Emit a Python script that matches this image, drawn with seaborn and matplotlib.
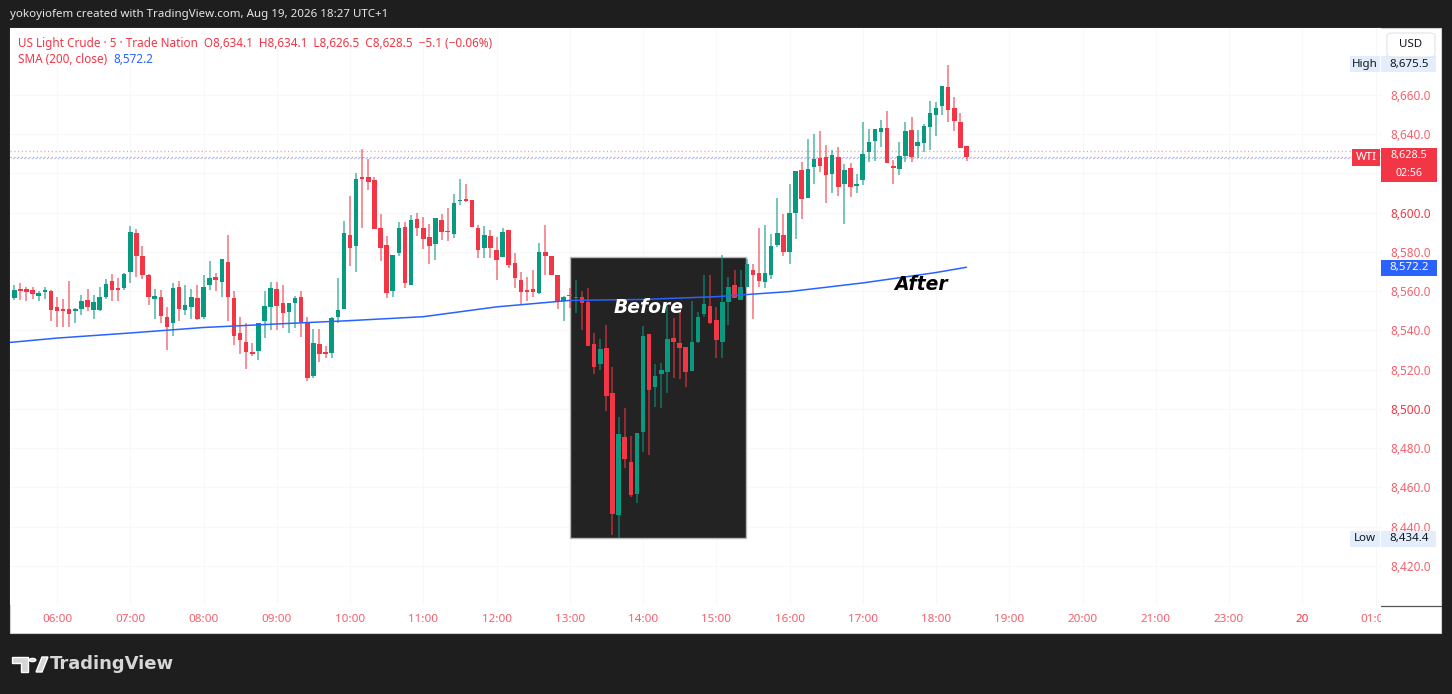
import numpy as np
import pandas as pd
import matplotlib
matplotlib.use('Agg')
import matplotlib.pyplot as plt
import matplotlib.transforms as mtransforms
from matplotlib.patches import Rectangle, FancyBboxPatch, Polygon, Circle
import seaborn as sns

# 5 min bars, US Light Crude, 05:25 -> 18:25
opens = [8556.6, 8561.0, 8561.0, 8560.6, 8557.5, 8559.8, 8560.0, 8552.0, 8551.0, 8551.0,
         8550.0, 8551.0, 8555.5, 8550.5, 8550.5, 8557.0, 8565.0, 8561.6, 8561.5, 8569.6,
         8589.5, 8578.0, 8568.0, 8556.2, 8557.2, 8547.0, 8543.7, 8562.3, 8550.5, 8552.0,
         8556.5, 8546.6, 8563.0, 8567.0, 8564.8, 8575.0, 8556.4, 8538.6, 8534.0, 8529.0,
         8529.5, 8544.8, 8551.8, 8561.0, 8554.0, 8549.6, 8554.2, 8557.2, 8543.6, 8517.0,
         8533.0, 8529.0, 8528.7, 8547.0, 8551.0, 8588.7, 8583.2, 8618.0, 8618.4, 8616.7,
         8592.0, 8583.6, 8560.3, 8579.3, 8592.9, 8563.2, 8596.8, 8592.0, 8587.5, 8584.0,
         8596.3, 8590.8, 8589.0, 8605.9, 8607.0, 8606.5, 8592.4, 8581.9, 8588.0, 8581.0,
         8577.6, 8591.2, 8574.2, 8565.7, 8560.6, 8561.0, 8558.9, 8579.8, 8578.0, 8568.0,
         8555.0, 8558.3, 8556.4, 8557.2, 8554.7, 8533.0, 8522.8, 8531.2, 8508.0, 8446.0,
         8485.9, 8473.1, 8456.5, 8488.4, 8538.0, 8511.0, 8517.8, 8519.0, 8536.3, 8533.5,
         8531.7, 8519.3, 8534.3, 8548.2, 8552.7, 8545.3, 8534.0, 8554.7, 8563.2, 8555.5,
         8562.3, 8571.0, 8569.4, 8564.9, 8568.3, 8583.6, 8588.7, 8580.0, 8600.0, 8622.0,
         8607.4, 8623.2, 8627.7, 8628.3, 8619.7, 8628.6, 8614.6, 8622.6, 8613.8, 8616.7,
         8631.1, 8636.7, 8641.3, 8643.0, 8624.0, 8622.1, 8629.0, 8642.2, 8634.0, 8635.4,
         8643.8, 8649.8, 8654.4, 8663.9, 8653.2, 8646.4, 8634.1]
highs = [8563.2, 8564.0, 8562.0, 8562.0, 8560.0, 8562.0, 8560.4, 8557.0, 8556.0, 8565.0,
         8551.2, 8558.0, 8561.0, 8558.0, 8562.0, 8566.0, 8569.0, 8566.7, 8569.2, 8593.0,
         8591.5, 8583.0, 8569.0, 8561.0, 8560.5, 8552.0, 8564.0, 8565.0, 8563.0, 8561.0,
         8563.0, 8568.0, 8575.4, 8569.5, 8576.3, 8588.7, 8560.0, 8547.0, 8544.0, 8533.6,
         8544.0, 8560.0, 8564.7, 8564.7, 8563.0, 8554.2, 8557.5, 8560.0, 8546.7, 8540.7,
         8540.7, 8532.0, 8546.6, 8566.6, 8596.0, 8608.7, 8620.0, 8632.5, 8627.6, 8618.4,
         8599.5, 8588.0, 8578.6, 8595.0, 8595.5, 8598.8, 8600.0, 8598.0, 8594.4, 8597.3,
         8599.2, 8602.5, 8609.5, 8617.2, 8614.5, 8606.6, 8593.6, 8593.0, 8591.0, 8587.5,
         8592.0, 8591.3, 8579.3, 8570.0, 8567.0, 8570.8, 8584.5, 8593.6, 8578.1, 8568.1,
         8557.3, 8561.6, 8565.8, 8560.0, 8561.4, 8538.6, 8535.6, 8542.7, 8521.6, 8496.0,
         8500.5, 8486.0, 8487.7, 8542.5, 8538.1, 8523.0, 8523.5, 8552.5, 8546.3, 8550.0,
         8531.8, 8555.0, 8549.4, 8568.0, 8568.0, 8551.8, 8578.4, 8567.0, 8570.8, 8570.8,
         8576.6, 8573.8, 8592.0, 8593.6, 8589.0, 8607.7, 8599.5, 8614.7, 8621.4, 8626.0,
         8637.4, 8640.0, 8641.4, 8634.7, 8632.0, 8633.6, 8625.0, 8625.2, 8619.5, 8646.4,
         8642.8, 8642.6, 8647.4, 8651.7, 8627.0, 8636.0, 8646.3, 8648.6, 8642.2, 8645.3,
         8657.0, 8656.4, 8664.8, 8675.5, 8659.0, 8651.0, 8634.1]
lows = [8555.5, 8555.5, 8555.0, 8556.0, 8555.0, 8556.0, 8545.0, 8542.0, 8542.0, 8542.0,
        8544.0, 8548.0, 8550.0, 8546.0, 8550.0, 8556.0, 8555.0, 8555.0, 8560.6, 8564.0,
        8567.0, 8566.0, 8553.0, 8546.0, 8544.0, 8530.0, 8537.0, 8545.0, 8548.0, 8546.0,
        8545.5, 8546.0, 8560.5, 8560.0, 8557.0, 8544.6, 8532.8, 8528.0, 8520.5, 8527.0,
        8525.0, 8536.0, 8540.0, 8540.0, 8541.0, 8538.5, 8541.0, 8536.5, 8514.0, 8516.0,
        8524.0, 8526.0, 8526.0, 8544.0, 8551.0, 8572.9, 8570.0, 8592.0, 8611.5, 8591.7,
        8575.6, 8556.6, 8557.2, 8578.0, 8561.5, 8563.2, 8588.0, 8581.7, 8573.6, 8576.0,
        8586.0, 8585.7, 8587.0, 8603.7, 8605.3, 8592.5, 8577.0, 8577.0, 8577.0, 8565.6,
        8577.5, 8571.8, 8561.4, 8553.0, 8555.0, 8557.0, 8558.8, 8568.0, 8568.2, 8551.0,
        8545.0, 8551.6, 8549.0, 8540.0, 8532.1, 8518.0, 8519.6, 8498.7, 8436.0, 8434.4,
        8470.0, 8455.0, 8452.0, 8478.0, 8476.6, 8501.0, 8500.5, 8508.0, 8515.7, 8515.0,
        8511.0, 8519.2, 8533.5, 8547.0, 8543.5, 8526.0, 8526.0, 8543.0, 8556.6, 8555.4,
        8562.2, 8545.9, 8562.0, 8561.5, 8566.0, 8582.3, 8578.0, 8574.0, 8586.4, 8597.0,
        8607.3, 8614.7, 8620.5, 8605.0, 8610.0, 8608.3, 8594.4, 8608.0, 8610.0, 8614.1,
        8626.0, 8626.5, 8633.6, 8625.1, 8614.6, 8619.0, 8625.6, 8626.0, 8628.0, 8631.0,
        8632.0, 8639.0, 8650.0, 8646.4, 8641.6, 8633.1, 8626.5]
closes = [8560.6, 8560.0, 8559.5, 8558.6, 8559.0, 8560.2, 8550.5, 8549.7, 8550.0, 8548.5,
          8551.0, 8555.0, 8552.0, 8554.5, 8557.0, 8563.7, 8560.6, 8560.6, 8569.0, 8590.3,
          8578.0, 8568.3, 8557.2, 8557.6, 8547.4, 8542.0, 8561.5, 8551.0, 8553.0, 8557.0,
          8546.0, 8562.3, 8566.6, 8565.7, 8576.3, 8557.2, 8537.4, 8535.2, 8529.0, 8528.0,
          8544.0, 8552.6, 8561.8, 8552.5, 8549.0, 8554.0, 8556.7, 8544.5, 8515.6, 8533.5,
          8528.0, 8528.0, 8546.5, 8550.4, 8589.5, 8582.0, 8617.2, 8617.2, 8615.8, 8591.7,
          8582.0, 8559.2, 8578.5, 8592.4, 8564.0, 8596.3, 8592.4, 8586.5, 8583.2, 8597.2,
          8590.0, 8590.0, 8604.8, 8606.4, 8606.0, 8592.6, 8581.0, 8588.7, 8581.9, 8576.0,
          8590.3, 8573.4, 8566.6, 8559.8, 8559.8, 8559.8, 8580.0, 8578.0, 8568.3, 8554.7,
          8557.2, 8557.4, 8557.2, 8553.8, 8532.2, 8521.6, 8530.6, 8506.8, 8446.3, 8487.0,
          8474.5, 8456.0, 8487.6, 8537.4, 8509.7, 8517.0, 8519.8, 8535.6, 8534.0, 8531.0,
          8519.0, 8534.0, 8547.0, 8553.5, 8544.0, 8535.0, 8554.4, 8562.3, 8556.7, 8562.3,
          8573.7, 8568.0, 8565.2, 8569.2, 8583.0, 8589.8, 8580.2, 8600.0, 8621.3, 8607.0,
          8622.1, 8627.4, 8623.8, 8619.0, 8629.4, 8613.3, 8621.8, 8613.0, 8614.6, 8629.8,
          8636.2, 8642.5, 8643.0, 8625.2, 8623.0, 8629.0, 8641.8, 8628.6, 8636.2, 8644.4,
          8651.0, 8653.2, 8664.7, 8652.4, 8646.7, 8633.2, 8628.5]
first_bar = pd.Timestamp('2026-08-19 05:25')

# SMA(200, close)
sma_times = ['05:20', '06:00', '07:00', '08:00', '09:00', '10:00', '11:00', '12:00',
             '13:00', '14:00', '15:00', '16:00', '17:00', '18:00', '18:25']
sma_vals = [8533.8, 8536.1, 8538.7, 8541.5, 8543.3, 8545.0, 8547.0, 8552.0,
            8555.3, 8555.8, 8557.2, 8559.8, 8564.2, 8569.5, 8572.2]

time_labels = ['06:00', '07:00', '08:00', '09:00', '10:00', '11:00', '12:00', '13:00',
               '14:00', '15:00', '16:00', '17:00', '18:00', '19:00', '20:00', '21:00',
               '23:00', '20', '01:00']
price_ticks = [8420, 8440, 8460, 8480, 8500, 8520, 8540, 8560, 8580, 8600, 8620, 8640, 8660]
hidden_ticks = [8620]  # sits under the last-price badge

GREEN = '#089981'
RED = '#f23645'
LIGHT_RED = '#f5606c'
BLUE = '#2962ff'
W, H = 1452, 694

df = pd.DataFrame({'open': opens, 'high': highs, 'low': lows, 'close': closes})
df['bar'] = np.arange(len(df))
df['up'] = df['close'] >= df['open']
df['color'] = np.where(df['up'], GREEN, RED)
df['lo'] = df[['open', 'close']].min(axis=1)
df['h'] = (df['close'] - df['open']).abs().clip(lower=0.8)

sma_pos = [(pd.Timestamp('2026-08-19 ' + t) - first_bar) / pd.Timedelta('5min') for t in sma_times]
bar_0600 = (pd.Timestamp('2026-08-19 06:00') - first_bar) / pd.Timedelta('5min')
tick_pos = [bar_0600 + 12 * j for j in range(len(time_labels))]

sns.set_style('white')
plt.rcParams['font.family'] = ['Noto Sans', 'DejaVu Sans']

fig = plt.figure(figsize=(W / 100, H / 100), dpi=100, facecolor='#1e1e1e')


def fx(px):
    return px / W


def fy(py):
    return 1 - py / H


# white chart canvas (behind the axes)
fig.patches.append(Rectangle((fx(10), fy(633)), fx(1431), 605 / H, transform=fig.transFigure,
                             facecolor='white', edgecolor='#cfcfcf', lw=0.8, zorder=-5))

ax = fig.add_axes([fx(10), fy(605), fx(1371), 577 / H])
ax.set_facecolor('white')
ax.set_xlim(-0.70, 223.9)
ax.set_ylim(8400.1, 8694.1)
for s in ax.spines.values():
    s.set_visible(False)

ax.set_xticks(tick_pos)
ax.set_xticklabels([])
ax.set_yticks(price_ticks)
ax.yaxis.tick_right()
ax.set_yticklabels(['' if v in hidden_ticks else f'{v:,.1f}' for v in price_ticks])
ax.tick_params(axis='both', length=0)
ax.tick_params(axis='y', pad=7, labelsize=8.5, labelcolor=LIGHT_RED)
for lab, v in zip(ax.get_yticklabels(), price_ticks):
    if v % 100 == 0:
        lab.set_fontweight('bold')
        lab.set_color(RED)
ax.grid(True, color='#f8f8f8', lw=0.8)
ax.set_axisbelow(True)

# highlight box
ax.add_patch(Rectangle((91.0, 8434.2), 28.8, 143.2, facecolor='#232323',
                       edgecolor='#b8b8b8', lw=1, zorder=1))

# candles
ax.vlines(df['bar'], df['low'], df['high'], colors=df['color'], lw=1.1, alpha=0.7, zorder=2)
ax.bar(df['bar'], df['h'], bottom=df['lo'], width=0.74, color=df['color'], lw=0, zorder=3)

# SMA
sns.lineplot(x=sma_pos, y=sma_vals, ax=ax, color=BLUE, lw=1.1, zorder=4)

# price lines
ax.axhline(8631.3, color='#f7a1a8', lw=0.9, ls=(0, (1, 2)), zorder=1)
ax.axhline(8628.5, color='#f58a94', lw=0.9, ls=(0, (1, 2)), zorder=1)
ax.axhline(8627.9, color='#9fb6f7', lw=0.9, ls=(1, (1, 2)), zorder=1)

ax.text(104.0, 8551.5, 'Before', color='white', fontsize=13.5, fontweight='bold',
        fontstyle='italic', family=['DejaVu Sans'], ha='center', va='center', zorder=5)
ax.text(148.6, 8563.5, 'After', color='black', fontsize=13.5, fontweight='bold',
        fontstyle='italic', family=['DejaVu Sans'], ha='center', va='center', zorder=5)

# time axis
ax_t = fig.add_axes([fx(10), fy(633), fx(1371), 28 / H], sharex=ax)
ax_t.set_axis_off()
for pos, lab in zip(tick_pos, time_labels):
    bold = lab == '20'
    ax_t.text(pos, 0.5, lab, ha='center', va='center', fontsize=8.4,
              color=RED if bold else LIGHT_RED, fontweight='bold' if bold else 'normal',
              clip_on=True)
fig.add_artist(plt.Line2D([fx(1381), fx(1441)], [fy(605.5), fy(605.5)],
                          color='#555555', lw=0.9))

# right-side price labels
blend = mtransforms.blended_transform_factory(fig.transFigure, ax.transData)


def price_box(x0, x1, y_lo, y_hi, fc):
    ax.add_patch(Rectangle((fx(x0), y_lo), fx(x1 - x0), y_hi - y_lo, transform=blend,
                           facecolor=fc, edgecolor='none', clip_on=False, zorder=6))


def price_text(px, y, s, color, size=8.3):
    ax.text(fx(px), y, s, transform=blend, ha='center', va='center',
            fontsize=size, color=color, clip_on=False, zorder=7)


price_box(1350, 1380, 8671.5, 8679.9, '#e3edfb')
price_box(1381, 1436, 8671.5, 8679.9, '#e3edfb')
price_text(1365, 8675.6, 'High', '#131722')
price_text(1409, 8675.6, '8,675.5', '#131722')

price_box(1352, 1380, 8623.8, 8632.5, RED)
price_box(1381, 1437, 8615.8, 8633.0, RED)
price_text(1366, 8628.2, 'WTI', 'white')
price_text(1409, 8629.0, '8,628.5', 'white', 7.8)
price_text(1409, 8620.2, '02:56', 'white', 7.6)

price_box(1381, 1437, 8567.8, 8575.9, BLUE)
price_text(1409, 8572.0, '8,572.2', 'white')

price_box(1350, 1380, 8429.7, 8437.8, '#e3edfb')
price_box(1381, 1436, 8429.7, 8437.8, '#e3edfb')
price_text(1365, 8433.8, 'Low', '#131722')
price_text(1409, 8433.8, '8,434.4', '#131722')

fig.patches.append(FancyBboxPatch((fx(1387), fy(57)), fx(48), 24 / H,
                                  boxstyle='round,pad=0,rounding_size=0.004',
                                  transform=fig.transFigure, facecolor='white',
                                  edgecolor='#e0e3eb', lw=0.8, zorder=8))
fig.text(fx(1411), fy(44.5), 'USD', ha='center', va='center', fontsize=8.3,
         color='#131722', zorder=9)

# header + legend
fig.text(fx(10), fy(14), 'yokoyiofem created with TradingView.com, Aug 19, 2026 18:27 UTC+1',
         color='#e6e6e6', fontsize=8.3, va='center')
fig.text(fx(18), fy(43), 'US Light Crude · 5 · Trade Nation  O8,634.1  H8,634.1  L8,626.5  '
         'C8,628.5  −5.1 (−0.06%)', color=RED, fontsize=8.45, va='center')
fig.text(fx(18), fy(59.5), 'SMA (200, close)', color=RED, fontsize=8.45, va='center')
fig.text(fx(113), fy(59.5), '8,572.2', color=BLUE, fontsize=8.45, va='center')

# TradingView logo
LOGO = '#d6d6d6'
fig.patches.append(Polygon([(fx(12), fy(657)), (fx(28), fy(657)), (fx(28), fy(672)),
                            (fx(21), fy(672)), (fx(21), fy(663)), (fx(12), fy(663))],
                           closed=True, transform=fig.transFigure, facecolor=LOGO))
fig.patches.append(Circle((fx(32.5), fy(660)), 3.3 / W, transform=fig.transFigure,
                          facecolor=LOGO))
fig.patches.append(Polygon([(fx(36), fy(672)), (fx(42), fy(657)), (fx(48), fy(657)),
                            (fx(42), fy(672))], closed=True, transform=fig.transFigure,
                           facecolor=LOGO))
fig.text(fx(50), fy(664), 'TradingView', color=LOGO, fontsize=13,
         fontweight='bold', family=['DejaVu Sans'], va='center')

fig.savefig('out.png', dpi=100, facecolor=fig.get_facecolor())
